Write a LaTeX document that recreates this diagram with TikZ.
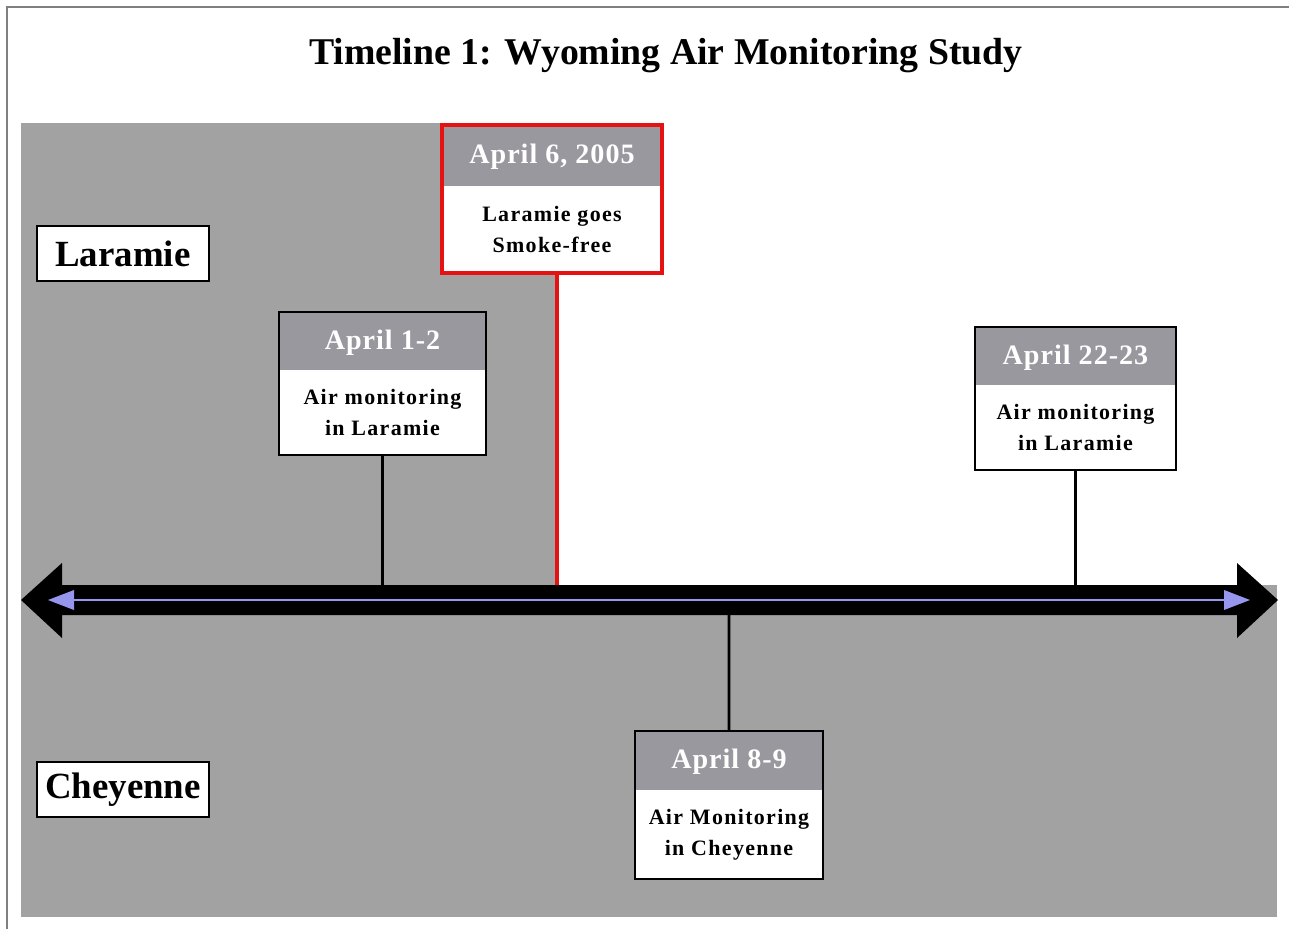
\documentclass[tikz,border=0pt]{standalone}
\usepackage{fontspec}
\setmainfont{Liberation Serif}
\newfontfamily\headfont[LetterSpace=3.5]{Liberation Serif}
\newfontfamily\bodyfont[LetterSpace=6]{Liberation Serif}
\usetikzlibrary{positioning, fit}

\definecolor{bggray}{RGB}{162,162,162}
\definecolor{hdrgray}{RGB}{152,152,158}
\definecolor{axisblue}{RGB}{150,150,238}
\definecolor{framegray}{RGB}{128,128,128}
\definecolor{smokered}{RGB}{230,18,18}

\tikzset{
  date/.style={fill=hdrgray, text=white,
    font=\headfont\bfseries\fontsize{16}{19}\selectfont,
    anchor=north west, inner sep=0pt, outer sep=0pt, minimum height=1.16cm,
    text height=1.12em, text depth=0.2em},
  event/.style={fill=white, align=center,
    font=\bodyfont\bfseries\fontsize{12.5}{17.5}\selectfont,
    anchor=north, inner sep=0pt, outer sep=0pt, minimum height=1.7cm},
  frame/.style={draw=black, line width=1pt, inner sep=0pt, outer sep=0pt},
  place/.style={draw=black, line width=1pt, fill=white, inner sep=0pt,
    font=\bfseries\fontsize{21}{24}\selectfont,
    minimum width=3.44cm, minimum height=1.1cm},
  stem/.style={line width=1.6pt}
}

\begin{document}
\begin{tikzpicture}[x=0.02cm, y=-0.02cm]

\useasboundingbox (0,0) rectangle (1289,929);

% Rahmen
\draw[framegray, line width=1.1pt] (7,929) -- (7,7) -- (1289,7);

% Titel
\node[anchor=base, font=\bfseries\fontsize{21.5}{24}\selectfont] (title) at (666,65)
  {Timeline 1: Wyoming Air Monitoring Study};

% Hintergrund
\fill[bggray] (21,123) rectangle (1277,917);
\fill[white] (557,123) rectangle (1277,585);

% Zeitachse
\fill[black] (21,600) -- (62,563) -- (62,585) -- (1237,585) -- (1237,563)
  -- (1278,600) -- (1237,638) -- (1237,615) -- (62,615) -- (62,638) -- cycle;
\draw[axisblue, line width=1.7pt] (70,600) -- (1228,600);
\fill[axisblue] (48,600) -- (74,590) -- (74,610) -- cycle;
\fill[axisblue] (1250,600) -- (1224,590) -- (1224,610) -- cycle;

\coordinate (t1) at (382.5,585);
\coordinate (t2) at (557,585);
\coordinate (t3) at (1075.5,585);
\coordinate (t4) at (729,615);

% Orte
\node[place] (laramie) at (123,253.5) {Laramie};
\node[place] (cheyenne) at (123,789.5) {Cheyenne};

% Ereignisse
\node[date, minimum width=4.14cm] (d1) at (279,312) {April 1-2};
\node[event, minimum width=4.14cm] (e1) at (d1.south) {Air monitoring\\in Laramie};
\node[frame, fit=(d1)(e1)] (f1) {};

\node[date, minimum width=4.4cm, minimum height=1.22cm] (d2) at (442,125) {April 6, 2005};
\node[event, minimum width=4.4cm, minimum height=1.74cm] (e2) at (d2.south) {Laramie goes\\Smoke-free};
\node[frame, draw=smokered, line width=2.2pt, fit=(d2)(e2)] (f2) {};

\node[date, minimum width=4.02cm] (d3) at (975,327) {April 22-23};
\node[event, minimum width=4.02cm] (e3) at (d3.south) {Air monitoring\\in Laramie};
\node[frame, fit=(d3)(e3)] (f3) {};

\node[date, minimum width=3.76cm, minimum height=1.18cm] (d4) at (635,731) {April 8-9};
\node[event, minimum width=3.76cm, minimum height=1.78cm] (e4) at (d4.south) {Air Monitoring\\in Cheyenne};
\node[frame, fit=(d4)(e4)] (f4) {};

% Verbindungen
\draw[stem] (f1.south) -- (t1);
\draw[smokered, line width=2.2pt] (f2.south -| t2) -- (t2);
\draw[stem] (f3.south) -- (t3);
\draw[stem] (f4.north) -- (t4);

\end{tikzpicture}
\end{document}
